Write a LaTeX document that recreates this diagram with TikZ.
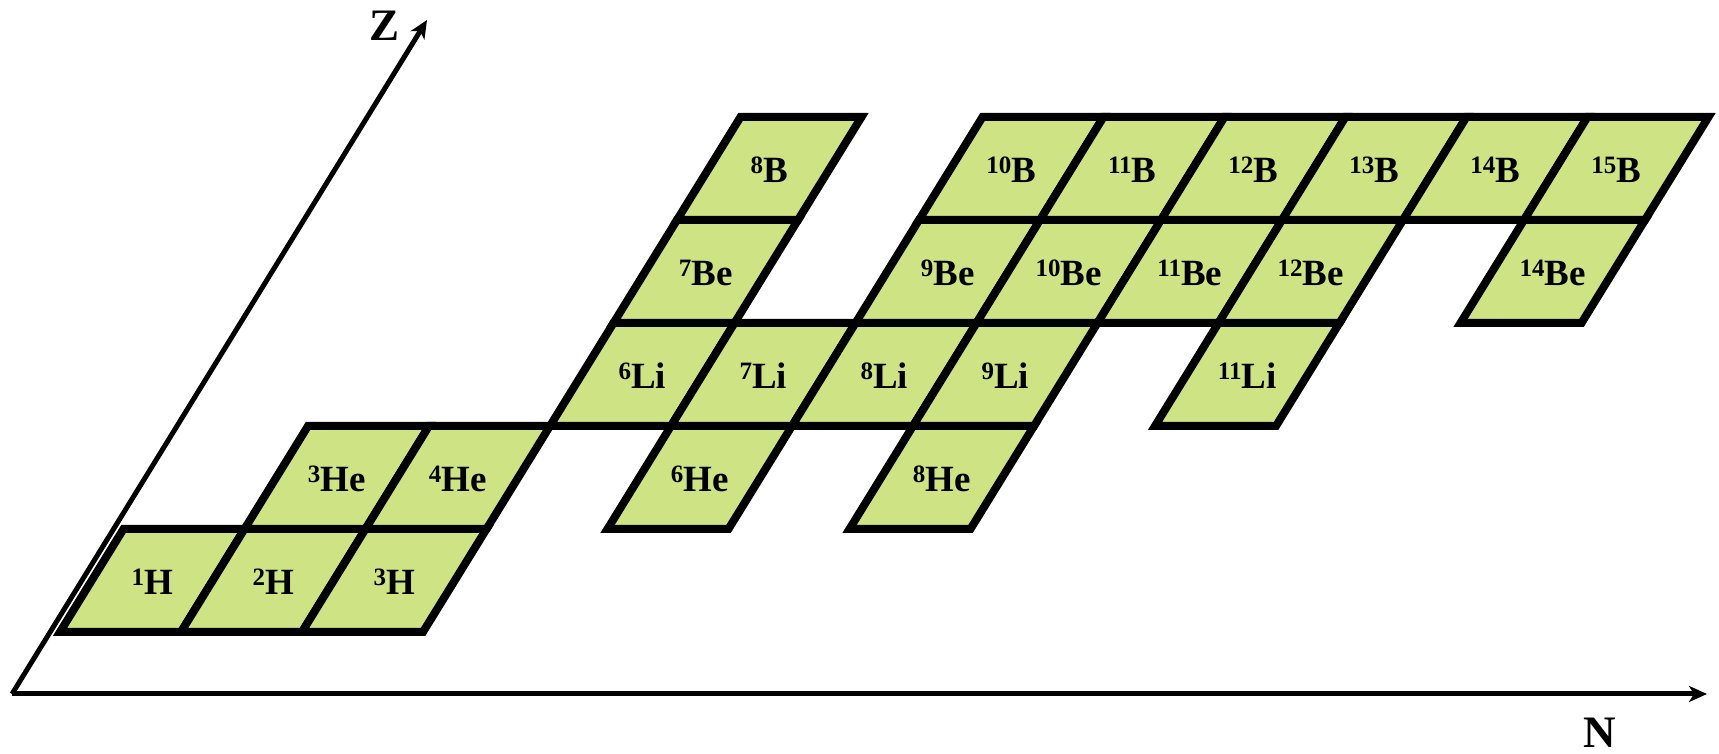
\documentclass[tikz,border=0pt]{standalone}
\usepackage{fontspec}
\setmainfont{Liberation Serif}
\usetikzlibrary{arrows.meta}
\definecolor{cellgreen}{RGB}{206,228,132}
\newcommand\isotope[2]{\raisebox{9pt}{\fontsize{25}{25}\selectfont #1}#2}
\tikzset{
  cell/.style={fill=cellgreen, draw=black, line width=8pt},
  lab/.style={font=\fontsize{37}{37}\selectfont\bfseries, inner sep=0pt},
  axis/.style={line width=5pt, -{Stealth[length=18pt,width=16pt,inset=5pt]}},
  axlab/.style={font=\fontsize{45}{45}\selectfont\bfseries, inner sep=0pt}
}
\begin{document}
\begin{tikzpicture}[x=1pt,y=1pt]
\useasboundingbox (0,0) rectangle (1719,754);
\coordinate (O) at (12,60);
\coordinate (Ztip) at (427,734);
\coordinate (Ntip) at (1707,60);
\draw[axis] (O) -- (Ztip);
\draw[axis] (O) -- (Ntip);
\foreach \n/\z/\m/\el in {0/1/1/H, 1/1/2/H, 2/1/3/H,
  1/2/3/He, 2/2/4/He, 4/2/6/He, 6/2/8/He,
  3/3/6/Li, 4/3/7/Li, 5/3/8/Li, 6/3/9/Li, 8/3/11/Li,
  3/4/7/Be, 5/4/9/Be, 6/4/10/Be, 7/4/11/Be, 8/4/12/Be, 10/4/14/Be,
  3/5/8/B, 5/5/10/B, 6/5/11/B, 7/5/12/B, 8/5/13/B, 9/5/14/B, 10/5/15/B}{
  \pgfmathsetmacro\bx{60+\n*121+(\z-1)*63.5}
  \pgfmathsetmacro\by{122+(\z-1)*103}
  \draw[cell] (\bx,\by) -- ++(121,0) -- ++(63.5,103) -- ++(-121,0) -- cycle;
  \node[lab] (c\m\el) at (\bx+92.25,\by+50) {\isotope{\m}{\el}};
}
\node[axlab] (zlab) at (385,728) {Z};
\node[axlab] (nlab) at (1600,21) {N};
\end{tikzpicture}
\end{document}
